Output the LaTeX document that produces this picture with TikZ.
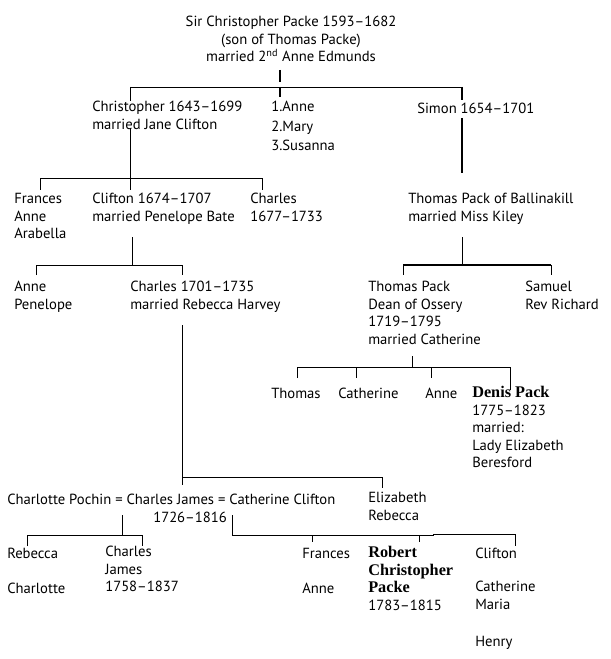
\documentclass[tikz,border=0pt]{standalone}
\usepackage{fontspec}
\setmainfont{PT Sans}
\newfontfamily\bserif{Liberation Serif}
\newcommand\firstline{\rule{0pt}{9pt}}
\newcommand\bn[1]{{\bserif\bfseries\fontsize{12.2}{13.2}\selectfont #1}}
\begin{document}
\begin{tikzpicture}[x=0.75pt,y=-0.75pt,
  txt/.style={anchor=north west,yshift=9pt,inner sep=0pt,align=left,font=\fontsize{11}{13.2}\selectfont,execute at begin node=\firstline},
  ctxt/.style={anchor=north,yshift=9pt,inner sep=0pt,align=center,font=\fontsize{11}{13.2}\selectfont,execute at begin node=\firstline},
  ln/.style={line width=0.6pt},
  thk/.style={line width=1.4pt},
  med/.style={line width=1pt}]
\useasboundingbox (0,0) rectangle (610,659);
% text nodes
\node[ctxt] (title) at (291,28) {Sir Christopher Packe 1593--1682\\(son of Thomas Packe)\\married 2\textsuperscript{nd} Anne Edmunds};
\node[txt] (chris) at (92,113) {Christopher 1643--1699\\married Jane Clifton};
\node[txt,font=\fontsize{11}{14.6}\selectfont] (daus) at (271,113) {1.Anne\\2.Mary\\3.Susanna};
\node[txt] (simon) at (417,113) {Simon 1654--1701};
\node[txt] (frances) at (14,205) {Frances\\Anne\\Arabella};
\node[txt] (clifton) at (92,205) {Clifton 1674--1707\\married Penelope Bate};
\node[txt] (charlesA) at (250,205) {Charles\\1677--1733};
\node[txt] (thomasB) at (408,205) {Thomas Pack of Ballinakill\\married Miss Kiley};
\node[txt] (annepen) at (14,293) {Anne\\Penelope};
\node[txt] (charlesB) at (130,293) {Charles 1701--1735\\married Rebecca Harvey};
\node[txt] (thomasD) at (368,293) {Thomas Pack\\Dean of Ossery\\1719--1795\\married Catherine};
\node[txt] (samuel) at (525,293) {Samuel\\Rev Richard};
\node[txt] (thomas) at (271,398) {Thomas};
\node[txt] (catherine) at (338,398) {Catherine};
\node[txt] (anne) at (425,398) {Anne};
\node[txt] (denis) at (472,398) {\bn{Denis Pack}\\1775--1823\\married:\\Lady Elizabeth\\Beresford};
\node[txt] (cj) at (7,504) {Charlotte Pochin = Charles James = Catherine Clifton};
\node[txt] (cjdates) at (153,522) {1726--1816};
\node[txt] (elizabeth) at (368,504) {Elizabeth\\Rebecca};
\node[txt] (rebecca) at (7,558) {Rebecca};
\node[txt] (charlotte) at (7,593) {Charlotte};
\node[txt] (charlesC) at (105,558) {Charles\\James\\1758--1837};
\node[txt] (frances2) at (302,558) {Frances};
\node[txt] (anne2) at (302,593) {Anne};
\node[txt] (robert) at (368,558) {\bn{Robert}\\\bn{Christopher}\\\bn{Packe}\\1783--1815};
\node[txt] (clifton2) at (475,558) {Clifton};
\node[txt] (catmaria) at (475,593) {Catherine\\Maria};
\node[txt] (henry) at (475,646) {Henry};
% junction coordinates
\coordinate (t1) at (280,70); \coordinate (t2) at (280,87);
\coordinate (hL) at (130,87); \coordinate (hR) at (462,87);
% top level
\draw[med] (t1) -- (280,82);
\draw[ln] (hL) -- (hR);
\draw[med] (t2) -- (280,97);
\draw[ln] (hL) -- (130,101);
\draw[thk] (hR) -- (462,100);
\draw[thk] (462,118) -- (462,173);
% Christopher's children
\coordinate (c1) at (130,128); \coordinate (c2) at (130,178);
\draw[ln] (c1) -- (c2);
\draw[ln] (40,190) -- (40,178) -- (262,178) -- (262,190);
\draw[ln] (c2) -- (130,190);
% Clifton's children
\coordinate (d1) at (132,237); \coordinate (d2) at (132,265);
\draw[ln] (d1) -- (d2);
\draw[ln] (36,275) -- (36,265) -- (182,265) -- (182,275);
% Ballinakill children
\coordinate (e1) at (462,237); \coordinate (e2) at (462,265);
\draw[ln] (e1) -- (e2);
\draw[thk] (403,265) -- (551,265);
\draw[ln] (403,265) -- (403,275);
\draw[ln] (551,265) -- (551,275);
% Charles 1701 line
\coordinate (f1) at (182,325); \coordinate (f2) at (182,477);
\draw[ln] (f1) -- (182,485);
\draw[ln] (f2) -- (382,477) -- (382,488);
% Thomas Dean's children
\coordinate (g1) at (412,356); \coordinate (g2) at (412,367);
\draw[ln] (g1) -- (g2);
\draw[ln] (297,378) -- (297,367) -- (510,367) -- (510,390);
\draw[ln] (356,367) -- (356,378);
\draw[ln] (431,367) -- (431,378);
% Charles James children, first marriage
\coordinate (h1) at (122,515); \coordinate (h2) at (122,535);
\draw[ln] (h1) -- (h2);
\draw[ln] (27,546) -- (27,535) -- (142,535) -- (142,546);
% second marriage
\coordinate (k1) at (232,515); \coordinate (k2) at (232,535);
\draw[ln] (k1) -- (k2) -- (433,535) -- (433,534) -- (515,534) -- (515,546);
\draw[ln] (312,535) -- (312,542);
\draw[ln] (419,535) -- (419,542);
\end{tikzpicture}
\end{document}
